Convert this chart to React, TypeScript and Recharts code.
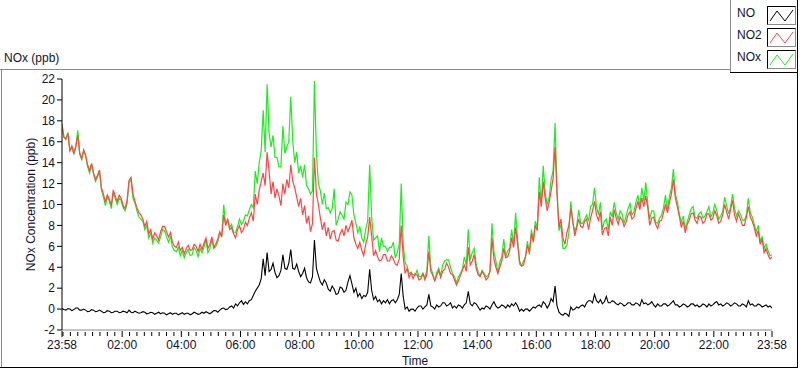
import { LineChart, Line, XAxis, YAxis } from "recharts";

// samples every 4 minutes, starting at 23:58 the previous day
const STEP_MIN = 4;

const NO2 = [
  17.6, 16.4, 16.3, 16.8, 15.1, 15.6, 14.9, 15.5, 16.6, 14.9, 14.4, 15.2, 14.7, 13.8, 13.2, 13.9, 13.0, 12.4, 12.8, 13.3,
  11.6, 11.0, 10.2, 10.9, 10.5, 9.9, 11.4, 10.8, 10.3, 10.9, 10.6, 9.9, 9.6, 10.4, 12.3, 12.6, 11.0, 10.3, 9.7, 9.2,
  9.0, 8.6, 7.9, 8.4, 7.2, 7.6, 6.7, 7.3, 7.0, 6.6, 7.4, 7.9, 7.9, 7.4, 6.9, 7.3, 6.4, 6.0, 5.9, 6.4,
  5.6, 5.9, 5.3, 5.8, 6.1, 5.6, 5.7, 6.2, 6.0, 5.5, 6.2, 5.7, 6.3, 6.8, 5.8, 6.2, 6.9, 5.9, 6.2, 6.7,
  7.4, 6.9, 9.0, 8.0, 8.6, 7.6, 7.8, 7.2, 6.8, 7.6, 8.0, 7.3,
  7.6, 8.3, 8.0, 8.7, 9.2, 8.4, 11.0, 10.0, 11.4, 12.2, 13.0, 11.8, 15.0, 13.2, 11.0, 12.2, 10.6, 11.5, 10.8, 9.9,
  12.0, 11.0, 12.4, 11.6, 13.8, 12.2, 11.6, 10.7, 9.8, 10.6, 9.0, 9.9, 8.2, 8.9, 7.4, 8.2, 14.5, 11.0, 10.0, 8.7,
  7.6, 8.3, 7.0, 7.8, 6.7, 7.4, 7.5, 6.6, 6.5, 7.2, 7.6, 7.0, 8.0, 7.4, 7.9, 8.5, 6.8, 6.2, 5.8, 6.4,
  5.6, 5.1, 6.2, 6.9, 8.8, 7.0, 5.1, 5.6, 5.0, 4.6, 4.7, 5.2, 5.2, 4.6, 4.6, 5.1, 4.8, 4.3, 4.2, 4.8,
  8.0, 5.0, 3.4, 3.9, 3.0, 3.5, 2.9, 3.4, 3.3, 2.8, 2.9, 3.4, 2.8, 3.3,
  5.5, 3.6, 3.2, 2.7, 3.2, 3.7, 3.0, 3.6, 3.8, 4.4, 4.0, 3.4, 3.3, 2.8, 2.3, 2.7, 3.2, 3.7, 4.2, 3.6,
  5.9, 4.2, 4.6, 5.2, 3.9, 3.3, 3.1, 3.6, 3.3, 2.8, 3.0, 3.6, 6.8, 4.8, 4.0, 3.4, 4.0, 4.6, 5.8, 4.9,
  5.0, 5.6, 6.8, 5.9, 7.8, 6.3, 4.6, 4.1, 4.2, 5.0, 6.1, 5.4, 7.2, 6.4, 8.0, 7.5, 11.2, 9.8, 12.2, 10.6,
  9.4, 10.2, 11.3, 12.5, 15.5, 11.0, 7.8, 8.6, 6.8, 6.2, 7.3, 8.0, 9.6, 8.4, 7.0, 7.8, 8.6, 7.9, 7.8, 8.4,
  8.6, 7.6, 8.7, 9.4, 10.3, 9.0, 8.5, 9.3, 7.1, 7.7,
  7.8, 7.0, 8.8, 8.0, 9.5, 8.7, 8.1, 8.8, 8.5, 7.9, 8.3, 9.0, 9.3, 8.6, 8.8, 9.6, 10.3, 9.5, 10.6, 9.8,
  10.8, 9.7, 8.0, 8.7, 8.8, 8.1, 7.7, 8.4, 8.5, 9.2, 10.0, 9.2, 10.2, 11.0, 12.4, 10.6, 9.8, 8.9, 7.8, 8.4,
  7.3, 8.1, 8.5, 9.1, 9.2, 8.5, 8.2, 8.9, 8.8, 8.2, 8.4, 9.1, 9.1, 8.5, 8.7, 9.4, 8.9, 8.2, 8.4, 9.0,
  10.0, 9.3, 8.6, 9.5, 10.4, 9.0, 8.4, 9.1, 8.6, 8.0, 8.0, 8.8, 9.8, 8.8, 8.4, 7.8, 7.0, 7.5, 6.2, 6.7,
  5.4, 5.8, 5.2, 4.8, 5.0,
];

const NOX = [
  17.7, 16.4, 16.2, 16.9, 15.1, 15.5, 14.8, 15.6, 17.1, 14.8, 14.3, 15.2, 14.6, 13.6, 13.0, 13.9, 12.9, 12.2, 12.6, 13.2,
  11.4, 10.7, 9.9, 10.8, 10.3, 9.6, 11.1, 10.6, 10.0, 10.6, 10.4, 9.7, 9.4, 10.1, 12.2, 12.3, 10.6, 10.1, 9.4, 8.8,
  8.6, 8.4, 7.6, 8.0, 6.8, 7.3, 6.3, 6.8, 6.6, 6.3, 6.9, 7.6, 7.5, 6.9, 6.4, 7.0, 5.9, 5.6, 5.5, 5.9,
  5.1, 5.6, 4.9, 5.4, 5.7, 5.1, 5.2, 5.9, 5.6, 5.0, 5.8, 5.4, 5.9, 6.6, 5.4, 5.8, 6.6, 5.8, 6.0, 6.4,
  7.3, 7.0, 10.0, 8.0, 8.6, 7.8, 8.1, 7.3, 7.3, 7.9, 8.6, 8.1,
  8.4, 9.0, 8.9, 9.5, 10.0, 9.7, 13.2, 12.0, 14.0, 15.1, 19.0, 15.0, 21.5, 16.8, 15.5, 16.6, 14.5, 14.5, 13.6, 13.6,
  17.5, 14.9, 15.5, 16.0, 20.3, 16.1, 14.0, 15.0, 13.0, 13.7, 12.6, 13.8, 11.8, 11.5, 11.0, 11.3, 21.8, 14.9, 12.0, 11.3,
  10.0, 11.1, 9.6, 9.7, 9.2, 9.6, 11.5, 8.0, 8.6, 9.3, 9.0, 8.6, 10.2, 10.0, 11.2, 10.9, 9.0, 8.2, 7.3, 7.9,
  6.8, 6.4, 7.6, 8.5, 13.8, 8.8, 6.6, 6.8, 7.0, 5.5, 6.8, 6.0, 6.0, 5.5, 5.9, 5.9, 6.4, 4.9, 5.4, 6.2,
  12.0, 6.2, 4.4, 4.1, 3.4, 3.5, 3.3, 3.2, 3.7, 3.1, 3.1, 3.4, 3.0, 3.7,
  7.0, 3.9, 3.4, 2.7, 3.5, 3.9, 3.2, 4.2, 4.6, 4.7, 4.7, 4.0, 3.4, 3.1, 2.5, 3.1, 3.4, 3.8, 5.0, 4.2,
  7.6, 4.7, 5.4, 5.8, 4.3, 3.5, 3.2, 3.7, 3.4, 3.1, 3.2, 3.6, 8.2, 5.5, 4.6, 3.5, 4.5, 5.0, 6.7, 5.0,
  5.6, 5.8, 7.6, 6.2, 9.2, 6.6, 4.3, 4.1, 4.6, 5.0, 6.5, 5.2, 7.6, 6.6, 8.4, 7.8, 12.6, 10.0, 13.7, 11.1,
  10.0, 10.6, 12.4, 13.2, 17.8, 11.3, 7.5, 8.1, 5.8, 5.8, 6.1, 7.3, 10.3, 8.3, 7.4, 8.0, 9.5, 8.2, 8.2, 8.6,
  9.0, 8.4, 9.8, 10.0, 11.6, 9.8, 9.0, 10.2, 7.6, 8.4,
  8.6, 7.6, 9.3, 8.8, 10.2, 9.2, 8.6, 9.4, 9.1, 8.2, 8.9, 9.6, 10.1, 9.0, 9.3, 10.2, 10.9, 9.8, 11.6, 10.3,
  12.1, 10.1, 8.6, 9.4, 9.4, 8.3, 8.2, 8.7, 9.0, 9.7, 10.9, 9.5, 10.8, 11.6, 13.4, 11.0, 10.3, 9.1, 8.3, 8.9,
  7.7, 8.3, 9.0, 9.6, 9.8, 8.8, 8.7, 9.1, 9.3, 8.7, 8.9, 9.3, 9.8, 8.8, 9.2, 10.0, 9.4, 8.6, 8.9, 9.3,
  10.7, 9.9, 9.1, 9.8, 11.0, 9.6, 8.9, 9.4, 9.1, 8.5, 8.5, 9.0, 10.6, 9.2, 8.8, 8.1, 7.4, 8.0, 6.5, 6.9,
  5.8, 6.2, 5.6, 5.1, 5.2,
];

const NO = [
  0.05, -0.05, -0.1, 0.05, 0.0, -0.15, -0.05, 0.1, 0.1, -0.1, -0.1, 0.0, -0.1, -0.25, -0.2, -0.05, -0.1, -0.25, -0.2, -0.1,
  -0.2, -0.35, -0.3, -0.15, -0.2, -0.35, -0.3, -0.2, -0.2, -0.35, -0.3, -0.2, -0.25, -0.35, -0.1, -0.3, -0.35, -0.2, -0.3, -0.4,
  -0.35, -0.25, -0.3, -0.45, -0.4, -0.3, -0.35, -0.5, -0.4, -0.3, -0.45, -0.35, -0.4, -0.55, -0.45, -0.35, -0.5, -0.4, -0.4, -0.55,
  -0.45, -0.35, -0.5, -0.4, -0.4, -0.55, -0.45, -0.3, -0.4, -0.5, -0.45, -0.3, -0.4, -0.25, -0.35, -0.45, -0.3, -0.15, -0.15, -0.3,
  -0.1, 0.05, 0.1, -0.05, 0.0, 0.2, 0.3, 0.1, 0.5, 0.3, 0.6, 0.8,
  0.45, 0.7, 0.5, 0.8, 0.9, 1.3, 1.7, 2.0, 2.3, 2.9, 4.8, 3.2, 5.4, 3.6, 3.8, 4.4, 3.5, 3.0, 3.2, 3.7,
  5.2, 3.9, 3.8, 4.4, 5.7, 3.9, 3.8, 4.3, 3.6, 3.1, 3.4, 3.9, 3.0, 2.6, 2.5, 3.1, 6.6, 3.9, 3.2, 2.6,
  2.3, 2.8, 2.5, 1.9, 1.7, 2.2, 1.9, 1.4, 1.5, 2.1, 2.0, 1.6, 1.8, 2.6, 3.2, 2.4, 1.6, 2.0, 1.2, 1.5,
  1.0, 1.3, 1.2, 1.6, 3.8, 1.8, 0.9, 1.2, 0.7, 0.9, 0.5, 0.8, 0.6, 0.9, 0.5, 0.8, 0.9, 0.6, 0.9, 1.4,
  3.4, 1.2, 0.0, 0.2, -0.2, 0.0, 0.0, -0.2, 0.1, 0.3, 0.3, 0.0, 0.2, 0.4,
  1.4, 0.3, 0.2, 0.0, 0.4, 0.2, 0.3, 0.6, 0.6, 0.3, 0.4, 0.6, 0.1, 0.3, 0.1, 0.4, 0.3, 0.1, 0.4, 0.6,
  1.7, 0.5, 0.3, 0.6, 0.5, 0.2, -0.1, 0.1, 0.0, 0.3, 0.2, 0.0, 0.4, 0.7, 0.3, 0.1, 0.2, 0.4, 0.3, 0.1,
  0.4, 0.2, 0.5, 0.3, 0.6, 0.3, -0.2, 0.0, -0.2, 0.0, 0.0, -0.2, 0.0, 0.2, 0.1, 0.3, 0.4, 0.2, 0.7, 0.5,
  0.1, 0.4, 1.0, 0.7, 2.2, 0.3, -0.3, -0.5, -0.6, -0.4, -0.5, -0.7, 0.2, -0.1, 0.0, 0.2, 0.1, 0.3, 0.4, 0.2,
  0.6, 0.8, 0.8, 0.6, 1.4, 0.8, 0.6, 0.9, 0.5, 0.7,
  1.2, 0.6, 0.6, 0.8, 0.7, 0.5, 0.4, 0.6, 0.5, 0.3, 0.4, 0.6, 0.6, 0.4, 0.4, 0.6, 0.5, 0.3, 0.9, 0.5,
  0.6, 0.4, 0.5, 0.7, 0.4, 0.2, 0.5, 0.3, 0.3, 0.5, 0.5, 0.3, 0.4, 0.6, 0.8, 0.4, 0.4, 0.2, 0.3, 0.5,
  0.4, 0.2, 0.3, 0.5, 0.5, 0.3, 0.4, 0.2, 0.3, 0.5, 0.4, 0.2, 0.5, 0.3, 0.4, 0.6, 0.7, 0.4, 0.5, 0.3,
  0.4, 0.6, 0.5, 0.3, 0.4, 0.6, 0.5, 0.3, 0.3, 0.5, 0.4, 0.2, 0.8, 0.4, 0.5, 0.3, 0.3, 0.5, 0.4, 0.2,
  0.3, 0.4, 0.2, 0.3, 0.1,
];

// major time ticks, in minutes after 23:58
const MAJOR_TICKS = [0, 122, 242, 362, 482, 602, 722, 842, 962, 1082, 1202, 1322, 1440];
const MAJOR_LABELS = ["23:58", "02:00", "04:00", "06:00", "08:00", "10:00", "12:00",
  "14:00", "16:00", "18:00", "20:00", "22:00", "23:58"];
const Y_TICKS = [-2, 0, 2, 4, 6, 8, 10, 12, 14, 16, 18, 20, 22];

const SERIES = [
  { name: "NO", key: "no", color: "#000000" },
  { name: "NO2", key: "no2", color: "#ff4646" },
  { name: "NOx", key: "nox", color: "#1eec1e" },
];

const FONT = "'Liberation Sans', Arial, sans-serif";
const TEXT = "#12122c";
const GRAY = "#8a8a8a";

// minor ticks every 15 minutes on the clock
const ALL_TICKS: number[] = [...MAJOR_TICKS];
for (let t = 2; t < 1440; t += 15) if (!MAJOR_TICKS.includes(t)) ALL_TICKS.push(t);
ALL_TICKS.sort((a, b) => a - b);

const TimeTick = (props: any) => {
  const { x, y, payload } = props;
  const idx = MAJOR_TICKS.indexOf(payload.value);
  if (idx < 0) {
    return <line x1={x} x2={x} y1={y + 2} y2={y + 6} stroke="#000" />;
  }
  return (
    <g>
      <line x1={x} x2={x} y1={y + 1} y2={y + 7} stroke="#000" />
      <text x={x} y={y + 19} textAnchor="middle" fontSize={12} fontFamily={FONT} fill={TEXT}>
        {MAJOR_LABELS[idx]}
      </text>
    </g>
  );
};

const line = (style: any) => <div style={{ position: "absolute", ...style }} />;

export default function App() {
  const data = NO.map((v, i) => ({ t: i * STEP_MIN, no: v, no2: NO2[i], nox: NOX[i] }));

  return (
    <div
      style={{
        position: "absolute", left: 0, top: 0, width: 800, height: 369,
        background: "#fff", overflow: "hidden", fontFamily: FONT,
      }}
    >
      <LineChart width={800} height={369} data={data} margin={{ top: 79, right: 28, bottom: 0, left: 0 }}>
        <XAxis
          dataKey="t" type="number" domain={[0, 1440]} ticks={ALL_TICKS} interval={0}
          tick={<TimeTick />} tickLine={false} tickSize={0} tickMargin={0} height={39}
          axisLine={{ stroke: GRAY }} allowDataOverflow
        />
        <XAxis
          xAxisId="top" orientation="top" type="number" domain={[0, 1440]} height={0}
          tick={false} tickLine={false} axisLine={{ stroke: "#000" }}
        />
        <YAxis
          type="number" domain={[-2, 22]} ticks={Y_TICKS} interval={0} width={62}
          tickSize={5} tickMargin={2} tickLine={{ stroke: "#000" }} axisLine={{ stroke: "#000" }}
          tick={{ fill: TEXT, fontSize: 12, fontFamily: FONT }} allowDataOverflow
        />
        <YAxis
          yAxisId="right" orientation="right" width={0} tick={false} tickLine={false}
          axisLine={{ stroke: GRAY }}
        />
        {/* NOx under NO2, NO on top */}
        <Line type="linear" dataKey="nox" stroke={SERIES[2].color} dot={false} isAnimationActive={false} strokeWidth={1.2} />
        <Line type="linear" dataKey="no2" stroke={SERIES[1].color} dot={false} isAnimationActive={false} strokeWidth={1.2} />
        <Line type="linear" dataKey="no" stroke={SERIES[0].color} dot={false} isAnimationActive={false} strokeWidth={1.1} />
      </LineChart>

      {/* panel frame */}
      {line({ left: 0, top: 69, width: 731, height: 1, background: GRAY })}
      {line({ left: 1, top: 69, width: 1, height: 299, background: GRAY })}
      {line({ left: 0, top: 367, width: 798, height: 1, background: "#000" })}
      {line({ left: 797, top: 0, width: 1, height: 368, background: "#000" })}
      {line({ left: 730, top: 0, width: 1, height: 72, background: GRAY })}
      {line({ left: 730, top: 72, width: 68, height: 1, background: "#000" })}

      <svg width={800} height={369} style={{ position: "absolute", left: 0, top: 0, pointerEvents: "none" }}>
        <text x={4} y={62} fontSize={12} fontFamily={FONT} fill={TEXT}>NOx (ppb)</text>
        <text x={415} y={365} fontSize={12} fontFamily={FONT} fill={TEXT} textAnchor="middle">Time</text>
        <text
          x={34.5} y={204.5} fontSize={12} fontFamily={FONT} fill={TEXT} textAnchor="middle"
          transform="rotate(-90, 34.5, 204.5)"
        >
          NOx Concentration (ppb)
        </text>

        {SERIES.map((s, i) => {
          const top = 6 + i * 22;
          return (
            <g key={s.name}>
              <text x={737} y={top + 11} fontSize={12} fontFamily={FONT} fill={TEXT}>{s.name}</text>
              <rect x={767.5} y={top + 0.5} width={28} height={18} fill="#fff" stroke={GRAY} />
              <path d={`M767.5 ${top + 18.5} V${top + 0.5} H795.5`} fill="none" stroke="#000" />
              <polyline
                points={`770,${top + 15} 777,${top + 5} 785,${top + 15} 793,${top + 4}`}
                fill="none" stroke={s.color} strokeWidth={1}
              />
            </g>
          );
        })}
      </svg>
    </div>
  );
}
